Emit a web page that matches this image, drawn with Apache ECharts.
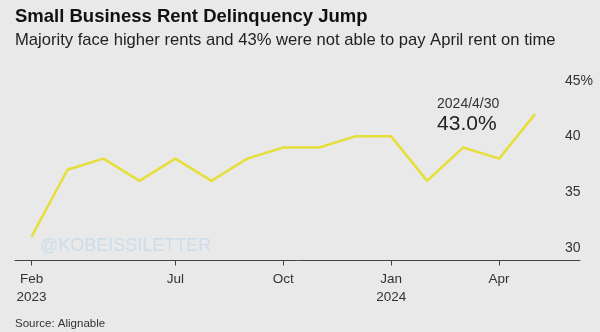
<!DOCTYPE html>
<html><head><meta charset="utf-8">
<script src="https://cdn.jsdelivr.net/npm/echarts@6/dist/echarts.min.js"></script>
<style>html,body{margin:0;padding:0;background:#e9e9e9}#c{width:600px;height:332px}</style>
</head><body><div id="c"></div>
<script>
// Monthly observations (index positions along the time axis)
const pointIndex = [0,1,2,3,4,5,6,7,8,9,10,11,12,13,14];
const delinquency = [31,37,38,36,38,36,38,39,39,40,40,36,39,38,42];
const tickIndex = [0,4,7,10,13];
const tickLabels = ['Feb\n2023','Jul','Oct','Jan\n2024','Apr'];
const yTicks = [30,35,40,45];
const yTickLabels = ['30','35','40','45%'];
const annotDate = '2024/4/30';
const annotValue = '43.0%';

const FONT = '"Liberation Sans", Arial, Helvetica, sans-serif';
const chart = echarts.init(document.getElementById('c'), null, {renderer:'canvas'});
chart.setOption({
  backgroundColor:'#e9e9e9',
  animation:false,
  title:[
    {text:'Small Business Rent Delinquency Jump', left:15, top:7, padding:0,
     textStyle:{fontFamily:FONT, fontWeight:'bold', fontSize:18.5, color:'#111'}},
    {text:'Majority face higher rents and 43% were not able to pay April rent on time', left:15, top:32, padding:0,
     textStyle:{fontFamily:FONT, fontWeight:'normal', fontSize:16.6, color:'#222'}},
    {text:'Source: Alignable', left:15, top:318, padding:0,
     textStyle:{fontFamily:FONT, fontWeight:'normal', fontSize:11.5, color:'#333'}}
  ],
  graphic:[
    {type:'text', left:40, top:237, z:0,
     style:{text:'@KOBEISSILETTER', font:'18px '+FONT, fill:'rgba(195,218,234,0.8)'}}
  ],
  grid:{left:15, right:20, top:80.7, bottom:332-260.5},
  xAxis:{
    type:'value', min:-0.46, max:15.25,
    splitLine:{show:false},
    axisLine:{show:true, lineStyle:{color:'#444', width:1}},
    axisTick:{show:true, customValues:tickIndex, length:5, inside:false, lineStyle:{color:'#444'}},
    axisLabel:{customValues:tickIndex, margin:10, color:'#333', fontSize:13.5, fontFamily:FONT, lineHeight:18,
      formatter:function(v){ const i=tickIndex.indexOf(Math.round(v)); return i>=0?tickLabels[i]:''; }}
  },
  yAxis:{
    type:'value', position:'right', min:28.85, max:45,
    splitLine:{show:false}, axisLine:{show:false}, axisTick:{show:false},
    axisLabel:{customValues:yTicks, margin:-15, align:'left', color:'#333', fontSize:14, fontFamily:FONT,
      formatter:function(v){ const i=yTicks.indexOf(Math.round(v)); return i>=0?yTickLabels[i]:''; }}
  },
  series:[{
    type:'line', clip:false, symbol:'none',
    data: pointIndex.map((x,i)=>[x, delinquency[i]]),
    lineStyle:{color:'#e6df3a', width:2.5},
    markPoint:{
      symbol:'rect', symbolSize:0,
      data:[{coord:[pointIndex[14], delinquency[14]], value:0,
        label:{show:true, position:'inside', offset:[-98,1], align:'left', verticalAlign:'middle',
          formatter:'{a|'+annotDate+'}\n{b|'+annotValue+'}',
          rich:{a:{fontSize:14, color:'#333', fontFamily:FONT, lineHeight:18},
                b:{fontSize:21, color:'#222', fontFamily:FONT, lineHeight:22}}}}]
    }
  }]
});
</script></body></html>
